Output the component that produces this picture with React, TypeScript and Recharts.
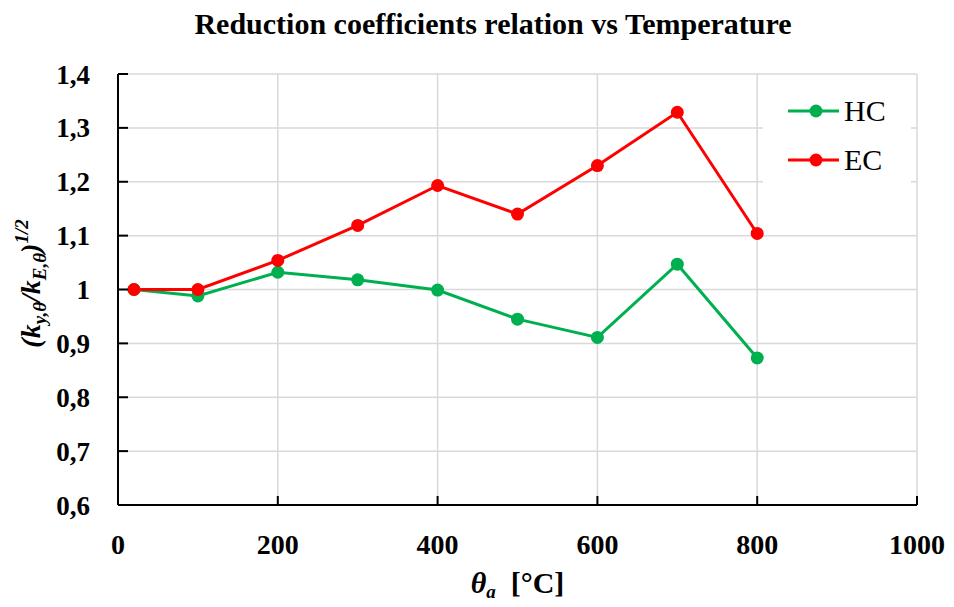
import React from "react"
import { CartesianGrid, Legend, Line, LineChart, XAxis, YAxis } from "recharts"

// temperature points, °C
const temps = [20, 100, 200, 300, 400, 500, 600, 700, 800]
const hcValues = [1.0, 0.988, 1.032, 1.018, 0.999, 0.945, 0.911, 1.047, 0.873]
const ecValues = [1.0, 1.0, 1.054, 1.119, 1.193, 1.14, 1.23, 1.329, 1.104]

const xTicks = [0, 200, 400, 600, 800, 1000]
const yTicks = [0.6, 0.7, 0.8, 0.9, 1.0, 1.1, 1.2, 1.3, 1.4]

const GREEN = "#00B050"
const RED = "#FF0000"
const FONT = "'Liberation Serif', 'Times New Roman', serif"

const series = [
  { key: "hc", name: "HC", color: GREEN },
  { key: "ec", name: "EC", color: RED },
]

const data = temps.map((t, i) => ({ t, hc: hcValues[i], ec: ecValues[i] }))

const fmtY = (v: number) => String(Number(v.toFixed(1))).replace(".", ",")

function XTick({ x, y, payload }: any) {
  return (
    <g>
      <line x1={x} x2={x} y1={y} y2={y - 9} stroke="#000" strokeWidth={2} />
      <text x={x} y={y + 49} textAnchor="middle" fontFamily={FONT} fontWeight="bold" fontSize={28} fill="#000">
        {payload.value}
      </text>
    </g>
  )
}

function YTick({ x, y, payload }: any) {
  return (
    <g>
      <line x1={x} x2={x + 10} y1={y} y2={y} stroke="#000" strokeWidth={2} />
      <text x={x - 28} y={y + 9.5} textAnchor="end" fontFamily={FONT} fontWeight="bold" fontSize={27} fill="#000">
        {fmtY(payload.value)}
      </text>
    </g>
  )
}

function YLabel({ viewBox }: any) {
  const cx = 40
  const cy = viewBox.y + viewBox.height / 2 - 6
  return (
    <text
      transform={`translate(${cx},${cy}) rotate(-90)`}
      textAnchor="middle"
      fontFamily={FONT}
      fontWeight="bold"
      fontStyle="italic"
      fontSize={28}
      fill="#000"
    >
      <tspan>(k</tspan>
      <tspan fontSize={19} dy={6}>y,θ</tspan>
      <tspan dy={-6}>/k</tspan>
      <tspan fontSize={19} dy={6}>E,θ</tspan>
      <tspan dy={-6}>)</tspan>
      <tspan fontSize={19} dy={-12}>1/2</tspan>
    </text>
  )
}

function XLabel({ viewBox }: any) {
  const cx = viewBox.x + viewBox.width / 2
  return (
    <text x={cx} y={593} textAnchor="middle" fontFamily={FONT} fontWeight="bold" fontSize={30} fill="#000">
      <tspan fontStyle="italic">θ</tspan>
      <tspan fontStyle="italic" fontSize={19} dy={5}>a</tspan>
      <tspan dy={-5}>{"\u00a0\u00a0[°C]"}</tspan>
    </text>
  )
}

function LegendBox() {
  return (
    <div style={{ background: "#fff", paddingLeft: 25, height: 125 }}>
      {series.map((s) => (
        <div key={s.key} style={{ display: "flex", alignItems: "center", height: 49 }}>
          <svg width={52} height={16} style={{ marginRight: 4 }}>
            <line x1={0} x2={51} y1={8} y2={8} stroke={s.color} strokeWidth={3} />
            <circle cx={28} cy={8} r={6.5} fill={s.color} />
          </svg>
          <span style={{ fontFamily: FONT, fontSize: 30, color: "#000", lineHeight: "30px" }}>{s.name}</span>
        </div>
      ))}
    </div>
  )
}

export default function App() {
  return (
    <div style={{ position: "absolute", left: 0, top: 0, width: 954, height: 607, background: "#fff" }}>
      <LineChart width={954} height={607} data={data} margin={{ top: 74, right: 37, bottom: 0, left: 0 }}>
        <CartesianGrid stroke="#d9d9d9" strokeWidth={1.5} />
        <XAxis
          dataKey="t"
          type="number"
          domain={[0, 1000]}
          ticks={xTicks}
          height={102}
          axisLine={{ stroke: "#000", strokeWidth: 2 }}
          tickLine={false}
          tickSize={0}
          tickMargin={0}
          tick={<XTick />}
          interval={0}
          label={{ content: (p: any) => <XLabel {...p} /> }}
        />
        <YAxis
          type="number"
          domain={[0.6, 1.4]}
          ticks={yTicks}
          width={118}
          axisLine={{ stroke: "#000", strokeWidth: 2 }}
          tickLine={false}
          tickSize={0}
          tickMargin={0}
          tick={<YTick />}
          interval={0}
          label={{ content: (p: any) => <YLabel {...p} /> }}
        />
        <Legend
          layout="vertical"
          align="center"
          verticalAlign="middle"
          content={() => <LegendBox />}
          wrapperStyle={{ left: 763, top: 86, width: 148, height: 125 }}
        />
        {series.map((s) => (
          <Line
            key={s.key}
            dataKey={s.key}
            name={s.name}
            type="linear"
            stroke={s.color}
            strokeWidth={3}
            dot={{ r: 6.5, fill: s.color, stroke: "none" }}
            activeDot={false}
            isAnimationActive={false}
          />
        ))}
      </LineChart>
      <div
        style={{
          position: "absolute",
          left: 16,
          top: 7,
          width: 954,
          textAlign: "center",
          fontFamily: FONT,
          fontWeight: "bold",
          fontSize: 30,
          lineHeight: "34px",
          color: "#000",
          whiteSpace: "nowrap",
        }}
      >
        Reduction coefficients relation vs Temperature
      </div>
    </div>
  )
}
